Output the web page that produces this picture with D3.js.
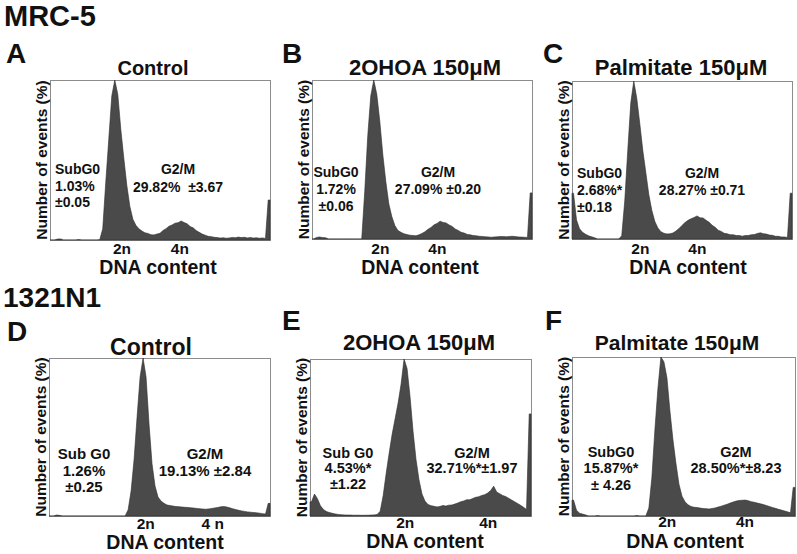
<!DOCTYPE html>
<html>
<head>
<meta charset="utf-8">
<script src="https://cdn.jsdelivr.net/npm/d3@7"></script>
<style>
  body { margin: 0; background: #fff; }
  svg text { font-family: "Liberation Sans", Arial, sans-serif; font-weight: bold; fill: #111; }
</style>
</head>
<body>
<svg id="fig" width="797" height="554"></svg>
<script>
// ---- data ----
var rowLabels = ["MRC-5", "1321N1"];
var panelLetters = ["A", "B", "C", "D", "E", "F"];
var panelTitles = ["Control", "2OHOA 150\u03bcM", "Palmitate 150\u03bcM",
                   "Control", "2OHOA 150\u03bcM", "Palmitate 150\u03bcM"];
var subG0Text = [["SubG0", "1.03%", "\u00b10.05"],
                 ["SubG0", "1.72%", "\u00b10.06"],
                 ["SubG0", "2.68%*", "\u00b10.18"],
                 ["Sub G0", "1.26%", "\u00b10.25"],
                 ["Sub G0", "4.53%*", "\u00b11.22"],
                 ["SubG0", "15.87%*", "\u00b1 4.26"]];
var g2mText = [["G2/M", "29.82%  \u00b13.67"],
               ["G2/M", "27.09% \u00b10.20"],
               ["G2/M", "28.27% \u00b10.71"],
               ["G2/M", "19.13% \u00b12.84"],
               ["G2/M", "32.71%*\u00b11.97"],
               ["G2M", "28.50%*\u00b18.23"]];
var tickLabels = [["2n", "4n"], ["2n", "4n"], ["2n", "4n"],
                  ["2n", "4 n"], ["2n", "4n"], ["2n", "4n"]];
// position of the 2n / 4n labels in histogram bins
var tickBins = [[23.9, 43.1], [22.7, 41.6], [22.7, 41.6],
                [32.4, 54.8], [31.9, 59.7], [31.6, 57.4]];

// histogram heights, % of the G0/G1 peak, one value per bin
var histA = [0,0,0.6,0.7,0,0,0,0,0,0.3,0,0,0,0,0,0,0.2,
  7,36,63,90,100,91,69,51,34,21,13,9.2,7,5.6,4.5,4.1,3.3,3.2,3.7,4.2,
  5.9,7.1,8.6,9.4,10.5,10.8,11.9,10.9,10.1,8.4,7.6,5.9,4.8,3.7,3.0,2.3,
  2.1,1.7,1.5,1.2,1.4,1.1,1.3,1.6,1.4,1.8,1.5,1.7,1.3,1.6,1.2,1.4,1.1,1.3,1.0,25];
var histB = [0,1.0,1.3,0.9,0.8,0,0,0,0,0,0,0,0,0,0,0,0,
  30,65,90,100,91,74,53,36,22,14,8.5,5.4,4.2,3.3,2.8,2.4,2.2,2.0,2.6,3.5,
  4.6,6.1,7.3,8.9,9.8,11.2,10.4,10.1,8.8,7.9,6.3,5.4,4.2,3.7,2.9,2.6,
  2.2,2.0,1.7,1.6,1.4,1.3,1.1,1.3,1.4,1.6,1.5,1.4,1.6,1.7,1.5,1.3,1.2,1.1,1.0,29];
var histC = [29,12,6.5,4.2,3,2,1.4,0.8,0,0,0,0,0,0,0,0,2,
  24,56,86,100,89,73,56,42,28,18,11,7,4.6,3.6,3.2,3.3,3.8,5,6.6,8.6,
  10.4,11.8,12.8,13.6,14.6,13.4,13.3,11.8,10.6,8.7,7.4,5.6,4.8,3.6,3.3,2.7,
  2.7,2.2,2.2,1.8,2.2,2.2,2.7,2.8,3.5,3.9,3.4,3.1,2.5,2.3,1.7,1.7,1.3,1.3,1.0,29];
var histD = [0,0,0.6,0.4,0,0,0,0,0,0,0,0,0,0,0,0,0,0,0,0,0,0,0,0,0,0,
  4,16,36,63,88,100,88,58,33,19,
  12,9.5,8,7,6.6,6.3,6,5.9,5.7,5.5,
  5.4,5.2,5,4.8,4.6,4.4,4.3,4.5,4.8,5.1,
  5.4,5.8,6.0,5.7,5.2,4.6,4.1,3.6,3.2,2.9,
  2.6,2.4,2.2,2,1.8,1.5,1.2,8];
var histE = [9,14,11,6.5,4.2,2.8,2.2,1.7,1.3,1.0,
  0.8,0.7,0.6,0.6,0.5,0.5,0.5,0.4,0.5,0.5,0.6,0.7,1.0,
  3,13,27,40,52,62,72,84,100,94,
  76,54,36,23,14,9.5,7.4,6.6,6.2,5.8,
  6.1,6.7,6.3,6.9,7.0,7.6,8.3,9.1,9.6,10.4,
  10.3,11.2,11.9,12.3,13.1,13.6,14.6,16.2,19,15.3,
  14.2,13.1,12.4,11.3,10.2,9.1,8.0,6.8,5.5,4.2,65];
var histF = [10,3.6,1.8,1.2,0.7,
  0,0,0,0.3,0,0,0,0,0,0,0,0,0,0,0,0,0.3,0,0,0,
  5,24,54,80,100,97,87,66,48,33,
  20,12.5,9,7,6,5.5,5.3,5,4.7,4.6,
  4.4,4.7,5.1,5.6,6.2,6.8,7.4,8.1,8.8,9.4,
  9.8,9.9,10,9.6,9,8.6,8.1,7.7,7.2,6.6,
  6,5.4,4.8,4.2,3.7,3.2,2.6,2.0,18];
var histograms = [histA, histB, histC, histD, histE, histF];

// ---- layout ----
var frames = [
  {x:50,  y:80,  w:220, h:160},
  {x:312, y:80,  w:220, h:159},
  {x:572, y:81,  w:220, h:158},
  {x:49,  y:358, w:221, h:158},
  {x:310, y:359, w:221, h:157},
  {x:572, y:357, w:223, h:159}
];
var letterPos = [[6,63],[282,63],[543,63],[7,341],[282,330],[545,330]];
var titlePos = [[153,75,20],[425,75,22],[681,75,22],[151,355,23],[419,350,22],[677,350,21]];
var dnaPos = [[158,274],[420,274],[688,274],[165,549],[425,548],[685,548]];
var tickY = [254,254,254,529,528,527];
var subPos = [
  {x:55,  a:"start",  y:[174,191,207], fs:14},
  {x:336, a:"middle", y:[177,194,211], fs:14},
  {x:577, a:"start",  y:[178,195,212], fs:14},
  {x:84,  a:"middle", y:[459,476,492], fs:15},
  {x:348, a:"middle", y:[458,473,489], fs:14.5},
  {x:611, a:"middle", y:[457,473,490], fs:14.5}
];
var g2Pos = [
  {x:178, y:[174,192], fs:14},
  {x:438, y:[177,194], fs:14},
  {x:702, y:[178,195], fs:14},
  {x:205, y:[459,476], fs:15},
  {x:472, y:[458,473], fs:14.5},
  {x:736, y:[457,473], fs:14.5}
];

var svg = d3.select("#fig");

svg.append("text").attr("x", 4).attr("y", 26).style("font-size", "29px").text(rowLabels[0]);
svg.append("text").attr("x", 3).attr("y", 307).style("font-size", "28px").text(rowLabels[1]);

function drawPanel(i) {
  var f = frames[i];
  var data = histograms[i];
  var n = data.length;
  var g = svg.append("g").attr("class", "panel");

  var x = d3.scaleLinear().domain([0, n]).range([f.x, f.x + f.w]);
  var y = d3.scaleLinear().domain([0, 100]).range([f.y + f.h, f.y]);

  g.append("rect")
    .attr("x", f.x + 0.5).attr("y", f.y + 0.5)
    .attr("width", f.w).attr("height", f.h)
    .attr("fill", "none").attr("stroke", "#8c8c8c").attr("stroke-width", 1);

  // bin centres joined by lines; first/last bins held flat to the frame edges
  var pts = [{b: 0, v: data[0]}];
  for (var k = 0; k < n - 1; k++) pts.push({b: k + 0.5, v: data[k]});
  pts.push({b: n - 0.6, v: data[n - 1]});
  pts.push({b: n, v: data[n - 1]});

  var area = d3.area()
    .x(function(d) { return x(d.b); })
    .y0(y(0))
    .y1(function(d) { return y(d.v); })
    .curve(d3.curveLinear);
  g.append("path")
    .datum(pts)
    .attr("d", area)
    .attr("fill", "#4a4a4a")
    .attr("stroke", "#2e2e2e")
    .attr("stroke-width", 0.6)
    .attr("stroke-linejoin", "round");

  g.append("line")
    .attr("x1", f.x).attr("x2", f.x + f.w)
    .attr("y1", f.y + f.h + 0.5).attr("y2", f.y + f.h + 0.5)
    .attr("stroke", "#6a6a6a");

  svg.append("text").attr("x", letterPos[i][0]).attr("y", letterPos[i][1])
    .style("font-size", "28px").text(panelLetters[i]);
  svg.append("text").attr("x", titlePos[i][0]).attr("y", titlePos[i][1])
    .attr("text-anchor", "middle").style("font-size", titlePos[i][2] + "px")
    .text(panelTitles[i]);

  svg.append("text")
    .attr("transform", "translate(" + (f.x - 3) + "," + (f.y + f.h / 2) + ") rotate(-90)")
    .attr("text-anchor", "middle").style("font-size", "15.5px")
    .text("Number of events (%)");

  tickLabels[i].forEach(function(t, k) {
    svg.append("text")
      .attr("x", x(tickBins[i][k])).attr("y", tickY[i])
      .attr("text-anchor", "middle").style("font-size", "15.5px")
      .style("white-space", "pre")
      .text(t);
  });
  svg.append("text").attr("x", dnaPos[i][0]).attr("y", dnaPos[i][1])
    .attr("text-anchor", "middle").style("font-size", "19.5px").text("DNA content");

  var sp = subPos[i];
  subG0Text[i].forEach(function(t, k) {
    svg.append("text").attr("x", sp.x).attr("y", sp.y[k])
      .attr("text-anchor", sp.a).style("font-size", sp.fs + "px")
      .style("white-space", "pre").text(t);
  });
  var gp = g2Pos[i];
  g2mText[i].forEach(function(t, k) {
    svg.append("text").attr("x", gp.x).attr("y", gp.y[k])
      .attr("text-anchor", "middle").style("font-size", gp.fs + "px")
      .style("white-space", "pre").text(t);
  });
}

for (var i = 0; i < 6; i++) drawPanel(i);
</script>
</body>
</html>
